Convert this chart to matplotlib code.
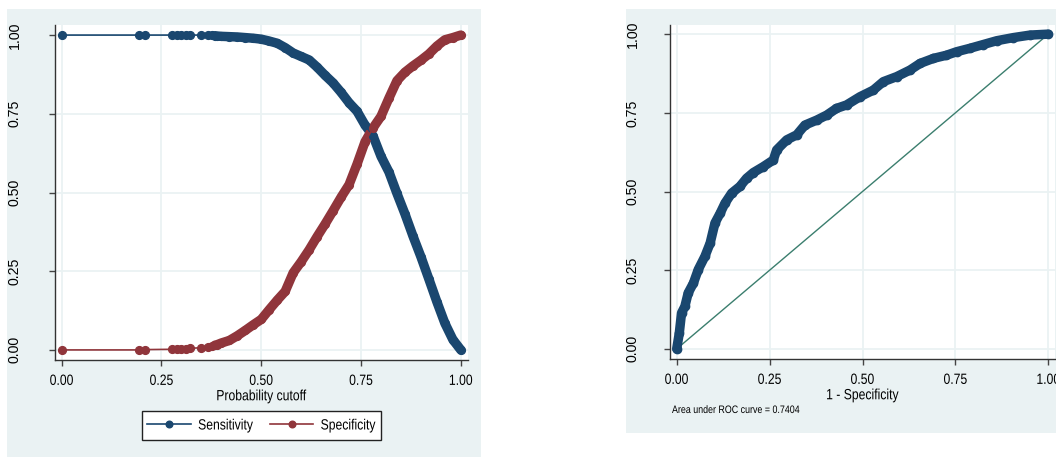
import matplotlib
matplotlib.use("Agg")
import matplotlib.pyplot as plt
from matplotlib.patches import Rectangle
from matplotlib.patheffects import AbstractPathEffect
from matplotlib.transforms import Affine2D
import numpy as np

# ---------------- data ----------------
cutoffs = [0.0, 0.194, 0.209, 0.277, 0.288, 0.299, 0.311, 0.321, 0.349, 0.366,
           0.376, 0.384, 0.39, 0.40, 0.42, 0.44, 0.46, 0.48, 0.50, 0.52, 0.54,
           0.56, 0.58, 0.60, 0.62, 0.64, 0.66, 0.68, 0.70, 0.72, 0.74, 0.76,
           0.78, 0.80, 0.82, 0.84, 0.86, 0.88, 0.90, 0.92, 0.94, 0.96, 0.98, 1.0]
sensitivity = [1.0, 1.0, 1.0, 1.0, 1.0, 1.0, 1.0, 1.0, 1.0, 1.0,
               0.999, 0.998, 0.997, 0.996, 0.995, 0.994, 0.992, 0.990, 0.987, 0.981, 0.974,
               0.960, 0.943, 0.932, 0.921, 0.898, 0.872, 0.848, 0.818, 0.785, 0.758, 0.714,
               0.680, 0.615, 0.565, 0.497, 0.432, 0.362, 0.296, 0.225, 0.153, 0.085, 0.033, 0.0]
specificity = [0.0, 0.0, 0.001, 0.002, 0.003, 0.003, 0.004, 0.005, 0.007, 0.010,
               0.012, 0.015, 0.017, 0.022, 0.030, 0.045, 0.062, 0.080, 0.097, 0.128, 0.158,
               0.186, 0.245, 0.280, 0.318, 0.360, 0.400, 0.442, 0.485, 0.525, 0.590, 0.661,
               0.705, 0.742, 0.800, 0.855, 0.882, 0.902, 0.920, 0.940, 0.965, 0.985, 0.992, 1.0]

fpr = [0.0, 0.007, 0.013, 0.022, 0.031, 0.045, 0.058, 0.076, 0.090, 0.103, 0.117,
       0.130, 0.148, 0.170, 0.188, 0.206, 0.233, 0.260, 0.269, 0.296, 0.323, 0.345,
       0.377, 0.404, 0.430, 0.457, 0.493, 0.529, 0.556, 0.592, 0.628, 0.655, 0.691,
       0.726, 0.753, 0.789, 0.825, 0.861, 0.906, 0.951, 1.0]
tpr = [0.0, 0.050, 0.114, 0.135, 0.178, 0.209, 0.252, 0.294, 0.336, 0.400, 0.431,
       0.463, 0.495, 0.516, 0.542, 0.560, 0.579, 0.600, 0.632, 0.664, 0.680, 0.711,
       0.727, 0.743, 0.764, 0.775, 0.801, 0.822, 0.849, 0.865, 0.886, 0.907, 0.923,
       0.933, 0.944, 0.955, 0.967, 0.979, 0.989, 0.997, 1.0]

auc_text = "Area under ROC curve = 0.7404"
ticks = [0.0, 0.25, 0.5, 0.75, 1.0]
tick_labels = ["0.00", "0.25", "0.50", "0.75", "1.00"]

NAVY = "#1A476F"
MAROON = "#90353B"
TEAL = "#3B7E6E"
BG = "#EAF2F3"
FONT = ["Liberation Sans", "DejaVu Sans"]

W, H = 1056, 457
fig = plt.figure(figsize=(W / 100, H / 100), dpi=100)
fig.patch.set_facecolor("white")


class Condense(AbstractPathEffect):
    """Horizontally condense glyph paths (narrow typeface look)."""

    def __init__(self, sx=0.82, anchor="center"):
        super().__init__()
        self.sx = sx
        self.anchor = anchor

    def draw_path(self, renderer, gc, tpath, affine, rgbFace=None):
        x0 = 0.0
        if len(tpath.vertices):
            ext = tpath.get_extents()
            x0 = (ext.x0 + ext.x1) / 2 if self.anchor == "center" else ext.x0
        t = Affine2D().translate(-x0, 0).scale(self.sx, 1).translate(x0, 0)
        renderer.draw_path(gc, tpath, t + affine, rgbFace)


def px_rect(x0, y0, x1, y1):
    return [x0 / W, 1 - y1 / H, (x1 - x0) / W, (y1 - y0) / H]


# background regions
for (a, b, c_, d) in [(7, 9, 481, 457), (626, 9, 1060, 433)]:
    r = px_rect(a, b, c_, d)
    fig.patches.append(Rectangle((r[0], r[1]), r[2], r[3], transform=fig.transFigure,
                                 facecolor=BG, edgecolor="none", zorder=-5))


def style_axes(ax, ypad):
    ax.set_facecolor("white")
    for s in ["top", "right"]:
        ax.spines[s].set_visible(False)
    for s in ["left", "bottom"]:
        ax.spines[s].set_color("#333333")
        ax.spines[s].set_linewidth(1.0)
    ax.set_xticks(ticks)
    ax.set_yticks(ticks)
    ax.set_xticklabels(tick_labels, fontfamily=FONT, fontsize=10.7)
    ax.set_yticklabels(tick_labels, fontfamily=FONT, fontsize=10.2, rotation=90,
                       va="center")
    for t in ax.get_xticklabels():
        t.set_path_effects([Condense(0.82, "center")])
    ax.tick_params(axis="both", direction="out", length=4, width=1, color="#444444")
    ax.tick_params(axis="x", pad=6)
    ax.tick_params(axis="y", pad=ypad)
    ax.grid(True, color=BG, linewidth=1.3)
    ax.set_axisbelow(True)


# ---------------- left panel ----------------
ax1 = fig.add_axes(px_rect(55, 25, 468, 360))
style_axes(ax1, 20)
ax1.set_xlim(-0.0168, 1.018)
ax1.set_ylim(-0.032, 1.032)

c = np.array(cutoffs)
dense = c >= 0.38
ax1.plot(c[dense], np.array(sensitivity)[dense], color=NAVY, lw=6.8,
         solid_capstyle="round", solid_joinstyle="round", zorder=3)
ax1.plot(c[dense], np.array(specificity)[dense], color=MAROON, lw=6.8,
         solid_capstyle="round", solid_joinstyle="round", zorder=3)
l1, = ax1.plot(cutoffs, sensitivity, color=NAVY, lw=1.2, marker="o", ms=5.6,
               label="Sensitivity", zorder=4)
l2, = ax1.plot(cutoffs, specificity, color=MAROON, lw=1.2, marker="o", ms=5.6,
               label="Specificity", zorder=4)
xl = ax1.set_xlabel("Probability cutoff", fontfamily=FONT, fontsize=10.7, labelpad=1)
xl.set_path_effects([Condense(0.82, "center")])

# legend (entries) + frame box
leg = fig.legend(handles=[l1, l2], loc="center left",
                 bbox_to_anchor=(147 / W, 1 - 425.5 / H), ncol=2,
                 prop={"family": FONT, "size": 10.7}, frameon=False,
                 handlelength=2.96, handletextpad=0.47, columnspacing=0.28,
                 borderpad=0.0, borderaxespad=0.0, markerscale=0.85)
for t in leg.get_texts():
    t.set_path_effects([Condense(0.82, "left")])
r = px_rect(142, 411, 381, 440)
fig.patches.append(Rectangle((r[0], r[1]), r[2], r[3], transform=fig.transFigure,
                             facecolor="white", edgecolor="#222222", lw=1.0, zorder=-1))

# ---------------- right panel ----------------
ax2 = fig.add_axes(px_rect(670, 25, 1055, 359))
style_axes(ax2, 18)
ax2.set_xlim(-0.018, 1.018)
ax2.set_ylim(-0.032, 1.029)
ax2.plot([0, 1], [0, 1], color=TEAL, lw=1.0, zorder=2)
ax2.plot(fpr, tpr, color=NAVY, lw=6.8, solid_capstyle="round",
         solid_joinstyle="round", zorder=3)
ax2.plot(fpr, tpr, color=NAVY, lw=1.0, marker="o", ms=6, zorder=4)
xl2 = ax2.set_xlabel("1 - Specificity", fontfamily=FONT, fontsize=10.7, labelpad=1)
xl2.set_path_effects([Condense(0.82, "center")])
at = fig.text(672 / W, 1 - 410 / H, auc_text, fontfamily=FONT, fontsize=7.8,
              ha="left", va="center")
at.set_path_effects([Condense(0.82, "left")])

fig.savefig("out.png", dpi=100, facecolor="white")
